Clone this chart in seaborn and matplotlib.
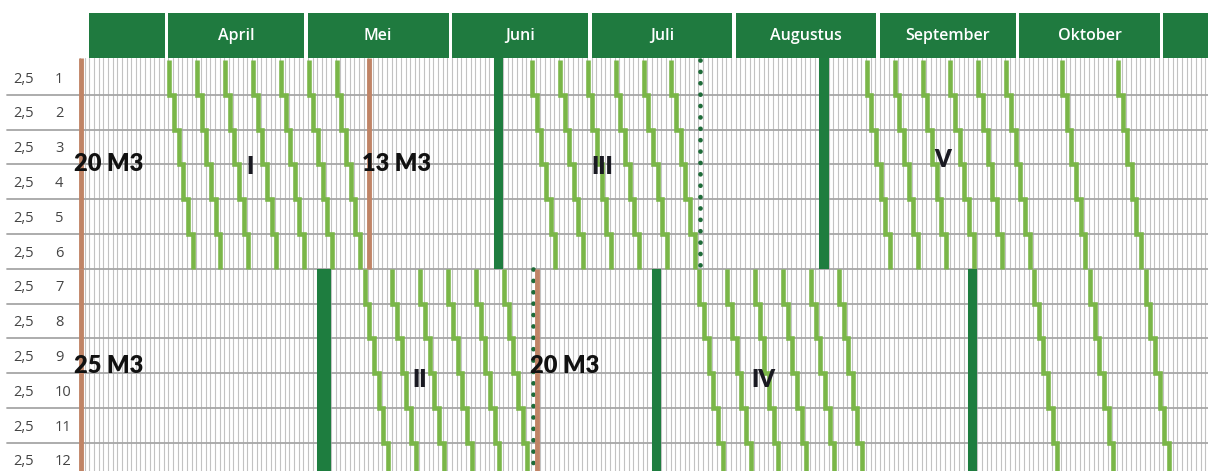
import numpy as np
import pandas as pd
import matplotlib
matplotlib.use("Agg")
import matplotlib.pyplot as plt
import seaborn as sns

# ---------------- data ----------------
# day 0 = 13 maart (day-of-year 72)
season_start_doy = 72
month_labels = ["", "April", "Mei", "Juni", "Juli", "Augustus", "September", "Oktober", ""]
month_start_doy = [74, 91, 121, 152, 182, 213, 244, 274, 305]
season_end_doy = 316

row_numbers = list(range(1, 13))
row_rates = ["2,5"] * 12

# staircase series: start day (in row 1 of their block), one day later per row
group_I_starts = [19, 25, 31, 37, 43, 49, 55]          # rows 1-6
group_II_starts = [61, 67, 73, 79, 85, 91]             # rows 7-12
group_III_starts = [97, 103, 109, 115, 121, 127]       # rows 1-6
group_IV_starts = [133, 139, 145, 151, 157, 163]       # rows 7-12
group_V_starts = [169, 175, 181, 187, 193, 199, 211, 223]  # rows 1-6
group_VI_starts = [205, 217, 229]                      # rows 7-12

top_rows = [1, 6]
bottom_rows = [7, 12]

# filling (brown) markers
fill_top_days = [0, 62]
fill_top_labels = ["20 M3", "13 M3"]
fill_bottom_days = [0, 98]
fill_bottom_labels = ["25 M3", "20 M3"]

# dark green bars (start, end day)
bars_top = [(89, 91), (159, 161)]
bars_bottom = [(51, 54), (123, 125), (191, 193)]

# dotted markers
dotted_top = [133]
dotted_bottom = [97]

# roman block labels
roman_labels = ["I", "II", "III", "IV", "V"]
roman_days = [36.6, 73.1, 112.3, 146.9, 185.6]
roman_rows = [3.07, 9.2, 3.07, 9.2, 2.87]

# ---------------- style ----------------
sns.set_theme(style="white")
plt.rcParams["font.family"] = ["Open Sans", "DejaVu Sans"]

HEADER_GREEN = "#1F7A3F"
BAR_GREEN = "#1E7D3F"
LIGHT_GREEN = "#7AB648"
BROWN = "#C08466"
DOT_GREEN = "#1E6B38"
GRID_V = "#C2C2C2"
GRID_H = "#A6A6A6"
TEXT_GRAY = "#444444"
BOLD_FONT = ["Lato", "DejaVu Sans"]

PX_PER_DAY = 4.65
X0_PX = 80.0
ROW_H_PX = 34.8
ROW0_PX = 60.0
W_PX, H_PX = 1208, 471

fig = plt.figure(figsize=(W_PX / 100, H_PX / 100), dpi=100, facecolor="white")
ax = fig.add_axes([0, 0, 1, 1])
xmin = -X0_PX / PX_PER_DAY
xmax = (W_PX - X0_PX) / PX_PER_DAY
ylim = ((H_PX - ROW0_PX) / ROW_H_PX, -ROW0_PX / ROW_H_PX)
n_days = int(np.ceil(xmax)) + 1

# vertical day grid
for d in range(0, n_days):
    ax.plot([d, d], [-0.05, 12.5], color=GRID_V, lw=0.8, zorder=1)

# horizontal row lines
for r in range(1, 12):
    ax.plot([-15.8, xmax], [r, r], color=GRID_H, lw=1.3, zorder=2)

# header boxes
hdr_top, hdr_bot = (13 - ROW0_PX) / ROW_H_PX, (58 - ROW0_PX) / ROW_H_PX
starts = [d - season_start_doy for d in month_start_doy]
ends = starts[1:] + [season_end_doy - season_start_doy]
for lab, s, e in zip(month_labels, starts, ends):
    s0 = max(s, 1.7)
    ax.add_patch(plt.Rectangle((s0, hdr_top), (e - 0.75) - s0, hdr_bot - hdr_top,
                               facecolor=HEADER_GREEN, edgecolor="none", zorder=3))
    if lab:
        ax.text((s0 + e - 0.75) / 2, (hdr_top + hdr_bot) / 2 + 0.02, lab, color="white",
                fontsize=11.5, fontweight="semibold", ha="center", va="center", zorder=4)

# left labels
for r, rate in zip(row_numbers, row_rates):
    yc = r - 0.5 + 0.05
    ax.text((13 - X0_PX) / PX_PER_DAY, yc, rate, color=TEXT_GRAY, fontsize=10.5,
            fontweight="medium", ha="left", va="center", zorder=4)
    ax.text((55 - X0_PX) / PX_PER_DAY, yc, str(r), color=TEXT_GRAY, fontsize=10.5,
            fontweight="medium", ha="left", va="center", zorder=4)

# staircases
recs = []
sid = 0
for starts_g, (r0, r1) in [(group_I_starts, top_rows), (group_II_starts, bottom_rows),
                           (group_III_starts, top_rows), (group_IV_starts, bottom_rows),
                           (group_V_starts, top_rows), (group_VI_starts, bottom_rows)]:
    for s in starts_g:
        order = 0
        for k, r in enumerate(range(r0, r1 + 1)):
            x = s + k + 0.2
            recs.append((sid, order, x, r - 1)); order += 1
            recs.append((sid, order, x, r)); order += 1
        sid += 1
stairs = pd.DataFrame(recs, columns=["stair", "order", "day", "row"])
sns.lineplot(data=stairs, x="day", y="row", units="stair", estimator=None, sort=False,
             color=LIGHT_GREEN, lw=3.3, legend=False, ax=ax, zorder=5)
for line in ax.lines[-stairs["stair"].nunique():]:
    line.set_solid_joinstyle("miter")
    line.set_solid_capstyle("butt")

# dark green bars
for (s, e) in bars_top:
    ax.add_patch(plt.Rectangle((s, -0.05), e - s, 6.05, facecolor=BAR_GREEN,
                               edgecolor="none", zorder=6))
for (s, e) in bars_bottom:
    ax.add_patch(plt.Rectangle((s, 6), e - s, 6.5, facecolor=BAR_GREEN,
                               edgecolor="none", zorder=6))

# dotted lines
for d in dotted_top:
    ax.plot([d + 0.4, d + 0.4], [0, 6], color=DOT_GREEN, lw=3.4,
            linestyle=(0, (0.01, 2.4)), dash_capstyle="round", zorder=7)
for d in dotted_bottom:
    ax.plot([d + 0.4, d + 0.4], [6, 12.5], color=DOT_GREEN, lw=3.4,
            linestyle=(0, (0.01, 2.4)), dash_capstyle="round", zorder=7)

# brown filling lines + labels
for d, lab in zip(fill_top_days, fill_top_labels):
    ax.plot([d + 0.2, d + 0.2], [-0.05, 6], color=BROWN, lw=3.5, solid_capstyle="butt", zorder=8)
    ax.text(d - 1.3, 3.0, lab, fontsize=17, fontweight="heavy", family=BOLD_FONT,
            color="#111111", ha="left", va="center", zorder=10)
for d, lab in zip(fill_bottom_days, fill_bottom_labels):
    ax.plot([d + 0.2, d + 0.2], [6, 12.5], color=BROWN, lw=3.5, solid_capstyle="butt", zorder=8)
    ax.text(d - 1.3, 8.8, lab, fontsize=17, fontweight="heavy", family=BOLD_FONT,
            color="#111111", ha="left", va="center", zorder=10)

# roman labels
for lab, d, r in zip(roman_labels, roman_days, roman_rows):
    ax.text(d, r, lab, fontsize=17, fontweight="heavy", family=BOLD_FONT,
            color="#1a1a22", ha="center", va="center", zorder=10)

ax.set_xlabel(""); ax.set_ylabel("")
ax.set_xlim(xmin, xmax)
ax.set_ylim(*ylim)
ax.axis("off")

fig.savefig("out.png", dpi=100, facecolor="white")
